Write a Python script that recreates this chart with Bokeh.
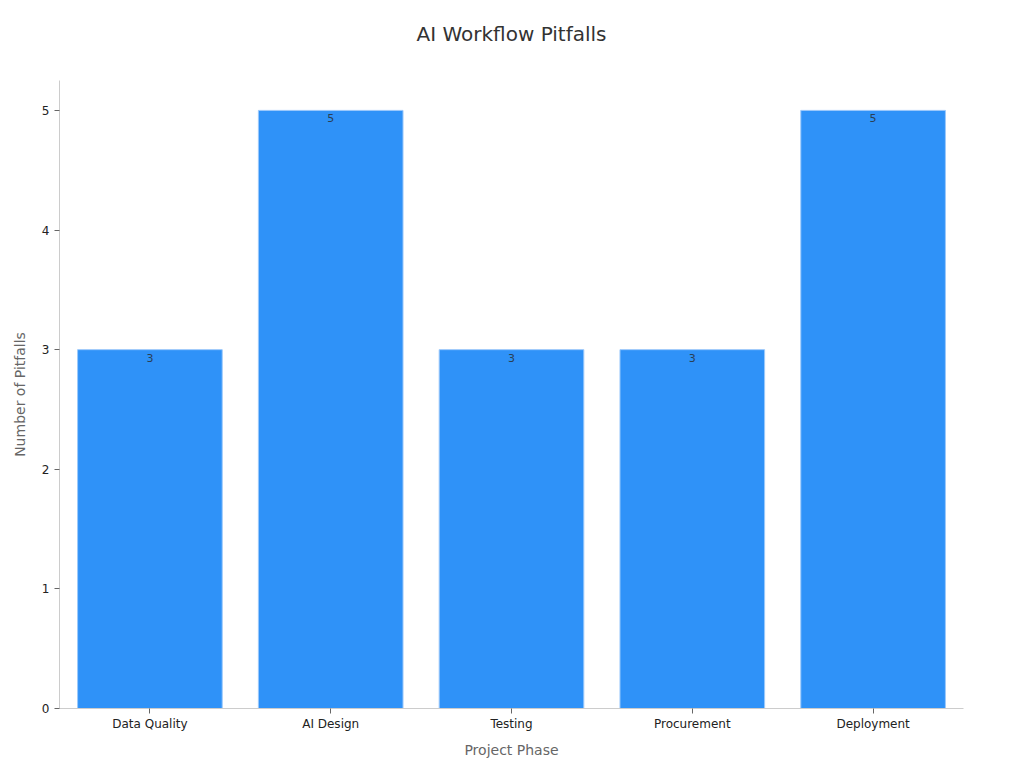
from bokeh.plotting import figure
from bokeh.models import ColumnDataSource, Range1d, FixedTicker
from bokeh.core.properties import value
from bokeh.embed import file_html
from bokeh.resources import INLINE

phases = ["Data Quality", "AI Design", "Testing", "Procurement", "Deployment"]
pitfalls = [3, 5, 3, 3, 5]
y_ticks = [0, 1, 2, 3, 4, 5]

src = ColumnDataSource(dict(phase=phases, count=pitfalls, label=[str(v) for v in pitfalls]))

FONT = "DejaVu Sans"

p = figure(x_range=phases, y_range=Range1d(0, 5.25), width=1016, height=760,
           output_backend="svg", toolbar_location=None,
           min_border_left=59, min_border_right=53, min_border_top=80, min_border_bottom=52)

p.vbar(x="phase", top="count", width=0.8, source=src,
       fill_color="#2f92f8", line_color="#9cc9fb", line_width=1)

p.text(x="phase", y="count", text="label", source=src,
       text_font=value(FONT), text_font_size="11px", text_color="#2a3f55",
       text_align="center", text_baseline="top", y_offset=4)

# trailing blank line lifts the title further above the frame
p.title.text = "AI Workflow Pitfalls\n "
p.title.align = "center"
p.title.text_font = FONT
p.title.text_font_size = "20px"
p.title.text_font_style = "normal"
p.title.text_color = "#333333"
p.title.standoff = 22

p.xgrid.visible = False
p.ygrid.visible = False
p.outline_line_color = None

for ax in (p.xaxis[0], p.yaxis[0]):
    ax.axis_line_color = "#cccccc"
    ax.major_tick_line_color = "#666666"
    ax.minor_tick_line_color = None
    ax.major_label_text_font = FONT
    ax.major_label_text_font_size = "12px"
    ax.major_label_text_color = "#222222"
    ax.axis_label_text_font = FONT
    ax.axis_label_text_font_size = "14px"
    ax.axis_label_text_font_style = "normal"
    ax.axis_label_text_color = "#666666"
    ax.major_tick_out = 5
    ax.major_tick_in = 0

p.xaxis.major_label_standoff = 3
p.xaxis.axis_label_standoff = 8
p.yaxis.axis_label_standoff = 11
p.yaxis.ticker = FixedTicker(ticks=y_ticks)
p.xaxis.axis_label = "Project Phase"
p.yaxis.axis_label = "Number of Pitfalls"
p.x_range.range_padding = 0.0

open("out.html", "w").write(file_html(p, INLINE))
